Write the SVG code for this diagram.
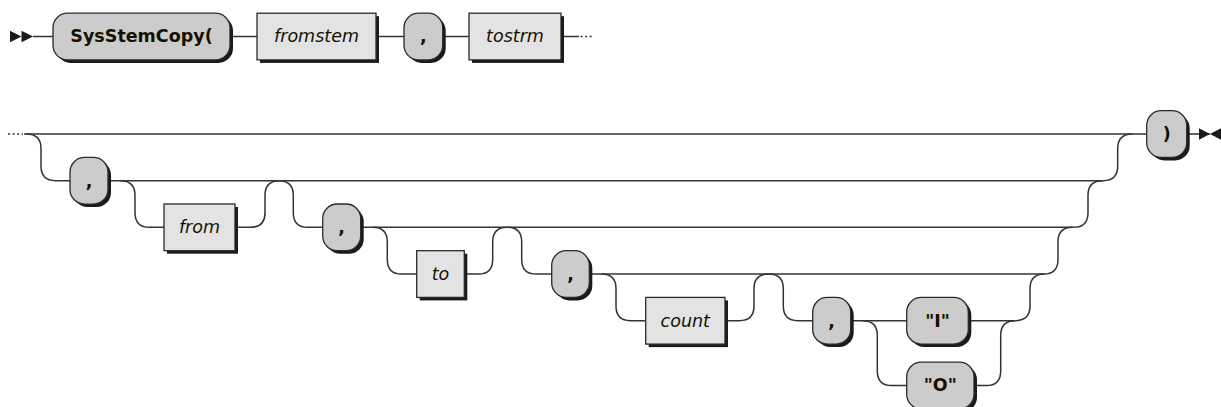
<svg xmlns="http://www.w3.org/2000/svg" width="1221" height="407" viewBox="0 0 1221 407">
<style>
.line{fill:none;stroke:#333333;stroke-width:1.5}
.dots{fill:none;stroke:#333333;stroke-width:1.5;stroke-dasharray:2 2.6}
.shadow{fill:#1a1a1a}
.t{fill:#cccccc;stroke:#2a2a2a;stroke-width:1.3}
.nt{fill:#e3e3e3;stroke:#2a2a2a;stroke-width:1.3}
.tt{font-family:"DejaVu Sans",Verdana,sans-serif;font-size:17.5px;font-weight:bold;fill:#141000;text-anchor:middle}
.ntt{font-family:"DejaVu Sans",Verdana,sans-serif;font-size:17.5px;font-style:italic;fill:#141000;text-anchor:middle}
.mark{fill:#1a1a1a}
</style>
<g id="connectors">
<polygon class="mark" points="21.5 36.5 10 30.7 10 42.3"/>
<polygon class="mark" points="33 36.5 21.5 30.7 21.5 42.3"/>
<path class="line" d="M33 36.5 H53 M230 36.5 H257 M376 36.5 H404 M442.7 36.5 H469 M561 36.5 H579"/>
<path class="dots" d="M580.5 36.5 H594"/>
<path class="dots" d="M8 134 H23"/>
<path class="line" d="M24 134 H1146.7"/>
<path class="line" d="M26.4 134 Q41 134 41 148.6 V166.1 Q41 180.7 55.6 180.7 H70"/>
<path class="line" d="M108 180.7 H1103.1"/>
<path class="line" d="M120.4 180.7 Q135 180.7 135 195.3 V212.7 Q135 227.3 149.6 227.3 H164"/>
<path class="line" d="M235 227.3 H250.4 Q265 227.3 265 212.7 V195.3 Q265 180.7 279.6 180.7"/>
<path class="line" d="M278.7 180.7 Q293.3 180.7 293.3 195.3 V212.7 Q293.3 227.3 307.9 227.3 H322.7"/>
<path class="line" d="M360.7 227.3 H1073.4"/>
<path class="line" d="M372.7 227.3 Q387.3 227.3 387.3 241.9 V259.4 Q387.3 274 401.9 274 H416.7"/>
<path class="line" d="M464.3 274 H478.1 Q492.7 274 492.7 259.4 V241.9 Q492.7 227.3 507.3 227.3"/>
<path class="line" d="M507.1 227.3 Q521.7 227.3 521.7 241.9 V259.4 Q521.7 274 536.3 274 H551.7"/>
<path class="line" d="M589.3 274 H1043.4"/>
<path class="line" d="M601.4 274 Q616 274 616 288.6 V306.1 Q616 320.7 630.6 320.7 H645.7"/>
<path class="line" d="M725 320.7 H739.4 Q754 320.7 754 306.1 V288.6 Q754 274 768.6 274"/>
<path class="line" d="M768.7 274 Q783.3 274 783.3 288.6 V306.1 Q783.3 320.7 797.9 320.7 H812.7"/>
<path class="line" d="M850.7 320.7 H906.7 M968.3 320.7 H1015.4"/>
<path class="line" d="M862.7 320.7 Q877.3 320.7 877.3 335.3 V370.9 Q877.3 385.5 891.9 385.5 H906.7"/>
<path class="line" d="M974 385.5 H986.1 Q1000.7 385.5 1000.7 370.9 V335.3 Q1000.7 320.7 1015.3 320.7"/>
<path class="line" d="M1015.4 320.7 Q1030 320.7 1030 306.1 V288.6 Q1030 274 1044.6 274"/>
<path class="line" d="M1043.4 274 Q1058 274 1058 259.4 V241.9 Q1058 227.3 1072.6 227.3"/>
<path class="line" d="M1073.4 227.3 Q1088 227.3 1088 212.7 V195.3 Q1088 180.7 1102.6 180.7"/>
<path class="line" d="M1103.1 180.7 Q1117.7 180.7 1117.7 166.1 V148.6 Q1117.7 134 1132.3 134"/>
<path class="line" d="M1186.7 134 H1210"/>
<polygon class="mark" points="1210 134 1199 128.2 1199 139.8"/>
<polygon class="mark" points="1210 134 1221 128.2 1221 139.8"/>
</g>
<g id="n-sysstemcopy">
<rect class="shadow" x="56" y="16.2" width="177" height="46.7" rx="14.6"/>
<rect class="t" x="53" y="13.2" width="177" height="46.7" rx="14.6"/>
<text class="tt" x="141.5" y="42.3">SysStemCopy(</text>
</g>
<g id="n-fromstem">
<rect class="shadow" x="260" y="16.2" width="119" height="46.7"/>
<rect class="nt" x="257" y="13.2" width="119" height="46.7"/>
<text class="ntt" x="316.5" y="42.3">fromstem</text>
</g>
<g id="n-comma1">
<rect class="shadow" x="407" y="16.2" width="38.7" height="46.7" rx="14.6"/>
<rect class="t" x="404" y="13.2" width="38.7" height="46.7" rx="14.6"/>
<text class="tt" x="423.3" y="42.3">,</text>
</g>
<g id="n-tostrm">
<rect class="shadow" x="472" y="16.2" width="92" height="46.7"/>
<rect class="nt" x="469" y="13.2" width="92" height="46.7"/>
<text class="ntt" x="515" y="42.3">tostrm</text>
</g>
<g id="n-comma2">
<rect class="shadow" x="73" y="160.4" width="38" height="46.7" rx="14.6"/>
<rect class="t" x="70" y="157.4" width="38" height="46.7" rx="14.6"/>
<text class="tt" x="89" y="186.5">,</text>
</g>
<g id="n-from">
<rect class="shadow" x="167" y="207" width="71" height="46.7"/>
<rect class="nt" x="164" y="204" width="71" height="46.7"/>
<text class="ntt" x="199.5" y="233.1">from</text>
</g>
<g id="n-comma3">
<rect class="shadow" x="325.7" y="207" width="38" height="46.7" rx="14.6"/>
<rect class="t" x="322.7" y="204" width="38" height="46.7" rx="14.6"/>
<text class="tt" x="341.7" y="233.1">,</text>
</g>
<g id="n-to">
<rect class="shadow" x="419.7" y="253.7" width="47.6" height="46.7"/>
<rect class="nt" x="416.7" y="250.7" width="47.6" height="46.7"/>
<text class="ntt" x="440.5" y="279.8">to</text>
</g>
<g id="n-comma4">
<rect class="shadow" x="554.7" y="253.7" width="37.6" height="46.7" rx="14.6"/>
<rect class="t" x="551.7" y="250.7" width="37.6" height="46.7" rx="14.6"/>
<text class="tt" x="570.5" y="279.8">,</text>
</g>
<g id="n-count">
<rect class="shadow" x="648.7" y="300.4" width="79.3" height="46.7"/>
<rect class="nt" x="645.7" y="297.4" width="79.3" height="46.7"/>
<text class="ntt" x="685.3" y="326.5">count</text>
</g>
<g id="n-comma5">
<rect class="shadow" x="815.7" y="300.4" width="38" height="46.7" rx="14.6"/>
<rect class="t" x="812.7" y="297.4" width="38" height="46.7" rx="14.6"/>
<text class="tt" x="831.7" y="326.5">,</text>
</g>
<g id="n-I">
<rect class="shadow" x="909.7" y="300.4" width="61.6" height="46.7" rx="14.6"/>
<rect class="t" x="906.7" y="297.4" width="61.6" height="46.7" rx="14.6"/>
<text class="tt" x="937.5" y="326.5">"I"</text>
</g>
<g id="n-O">
<rect class="shadow" x="909.7" y="365.2" width="67.3" height="46.7" rx="14.6"/>
<rect class="t" x="906.7" y="362.2" width="67.3" height="46.7" rx="14.6"/>
<text class="tt" x="940.3" y="391.3">"O"</text>
</g>
<g id="n-rparen">
<rect class="shadow" x="1149.7" y="113.7" width="40" height="46.7" rx="14.6"/>
<rect class="t" x="1146.7" y="110.7" width="40" height="46.7" rx="14.6"/>
<text class="tt" x="1166.7" y="139.8">)</text>
</g>
</svg>
